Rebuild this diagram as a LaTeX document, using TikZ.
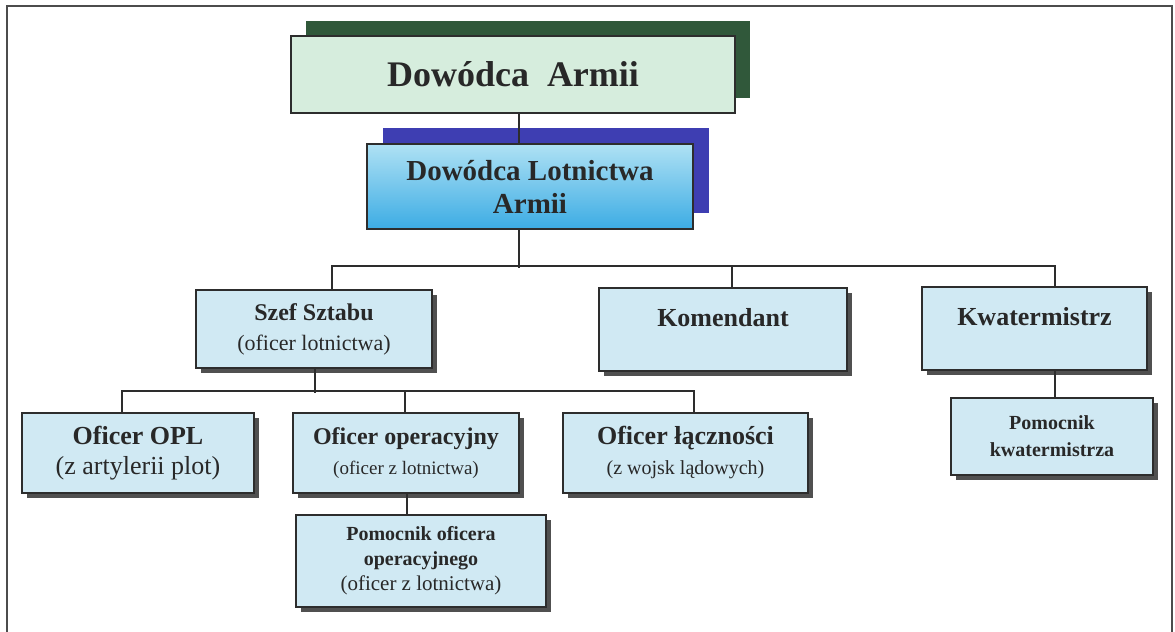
\documentclass[tikz,border=0pt]{standalone}
\usepackage{fontspec}
\setmainfont{Liberation Serif}
\usetikzlibrary{shadows}
\definecolor{boxblue}{RGB}{208,233,243}
\definecolor{boxgreen}{RGB}{214,237,221}
\definecolor{shadegreen}{RGB}{48,88,58}
\definecolor{shadeblue}{RGB}{62,62,178}
\definecolor{shadedark}{RGB}{80,80,80}
\definecolor{lineclr}{RGB}{45,45,45}
\definecolor{textclr}{RGB}{40,40,40}
\definecolor{skytop}{RGB}{175,225,244}
\definecolor{skybottom}{RGB}{60,172,228}
\begin{document}
\begin{tikzpicture}[x=0.5pt,y=-0.5pt,
        box/.style={draw=lineclr,line width=1pt,fill=boxblue,inner sep=0pt,align=center,text=textclr,
            general shadow={fill=shadedark,shadow xshift=2.5pt,shadow yshift=-2.5pt}},
        topbox/.style={draw=lineclr,line width=1pt,fill=boxgreen,inner sep=0pt,align=center,text=textclr,
            general shadow={fill=shadegreen,shadow xshift=7.5pt,shadow yshift=7.5pt}},
        airbox/.style={draw=lineclr,line width=1pt,top color=skytop,middle color=white,bottom color=skybottom,
            inner sep=0pt,align=center,text=textclr,
            general shadow={fill=shadeblue,shadow xshift=8pt,shadow yshift=8pt}},
        line/.style={draw=lineclr,line width=1pt}]
    \useasboundingbox (0,0) rectangle (1175,632);
    %% frame
    \draw[lineclr!85,line width=1.2pt] (7,640) -- (7,6) -- (1172,6) -- (1172,640);
    %% top
    \node[topbox,minimum width=222pt,minimum height=38.5pt,font=\fontsize{18}{20}\selectfont\bfseries]
        (armii) at (513,74.5) {Dowódca\ \ Armii};
    \node[airbox,minimum width=163pt,minimum height=42.5pt,font=\fontsize{14.5}{16.5}\selectfont\bfseries]
        (lotn) at (530,186.5) {Dowódca Lotnictwa\\ Armii};
    %% second row
    \node[box,minimum width=118pt,minimum height=39pt,font=\fontsize{12}{15}\selectfont\bfseries]
        (szef) at (314,329) {Szef Sztabu\\ \fontsize{11}{15}\selectfont\mdseries(oficer lotnictwa)};
    \node[box,minimum width=124pt,minimum height=41.5pt,font=\fontsize{13}{15}\selectfont\bfseries]
        (kom) at (723,329.5) {Komendant\\[-7pt] \strut};
    \node[box,minimum width=112.5pt,minimum height=41.5pt,font=\fontsize{13}{15}\selectfont\bfseries]
        (kwat) at (1034.5,328.5) {Kwatermistrz\\[-7pt] \strut};
    %% third row
    \node[box,minimum width=116pt,minimum height=40pt,font=\fontsize{13}{15}\selectfont\bfseries]
        (opl) at (138,453) {Oficer OPL\\ \mdseries(z artylerii plot)};
    \node[box,minimum width=113pt,minimum height=40pt,font=\fontsize{12}{15}\selectfont\bfseries]
        (oper) at (406,453) {Oficer operacyjny\\ \fontsize{9.5}{15}\selectfont\mdseries(oficer z lotnictwa)};
    \node[box,minimum width=122.5pt,minimum height=40pt,font=\fontsize{13}{15}\selectfont\bfseries]
        (lacz) at (685.5,453) {Oficer łączności\\ \fontsize{10}{15}\selectfont\mdseries(z wojsk lądowych)};
    \node[box,minimum width=101pt,minimum height=38.5pt,font=\fontsize{10}{13.5}\selectfont\bfseries]
        (pomkw) at (1052,436.5) {Pomocnik\\ kwatermistrza};
    %% fourth row
    \node[box,minimum width=125pt,minimum height=46pt,font=\fontsize{10}{12.5}\selectfont\bfseries]
        (pomop) at (421,561) {Pomocnik oficera\\ operacyjnego\\ \fontsize{10.5}{12.5}\selectfont\mdseries(oficer z lotnictwa)};
    %% connectors
    \draw[line] ([xshift=3pt]armii.south) -- ([xshift=-5.5pt]lotn.north);
    \draw[line] ([xshift=-5.5pt]lotn.south) -- ++(0,38);
    \draw[line] ([xshift=9pt]szef.north) -- ++(0,-23) -| ([xshift=10.25pt]kwat.north);
    \draw[line] ([xshift=4.5pt]kom.north) -- ++(0,-21);
    \draw[line] ([xshift=0.5pt]szef.south) -- ++(0,24);
    \draw[line] ([xshift=-8pt]opl.north) -- ++(0,-21) -| ([xshift=4.25pt]lacz.north);
    \draw[line] ([xshift=-0.5pt]oper.north) -- ++(0,-21);
    \draw[line] ([xshift=0.5pt]oper.south) -- ([xshift=-7pt]pomop.north);
    \draw[line] ([xshift=10.25pt]kwat.south) -- ([xshift=1.5pt]pomkw.north);
\end{tikzpicture}
\end{document}
